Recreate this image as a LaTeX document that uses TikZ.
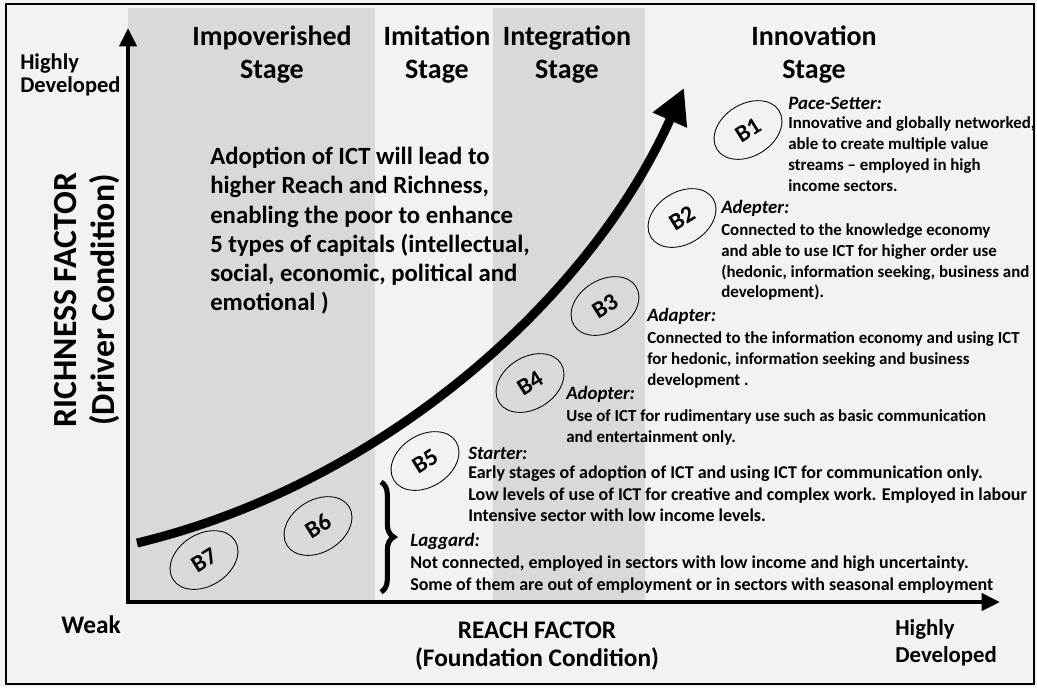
\documentclass[tikz,border=0pt]{standalone}
\usepackage{fontspec}
\setmainfont{Carlito}
\usetikzlibrary{arrows.meta, positioning, calc, shapes.geometric, decorations.pathreplacing}
\definecolor{colour_bg}{HTML}{F2F2F2}
\definecolor{colour_band}{HTML}{D9D9D9}

\begin{document}
\begin{tikzpicture}
   [
      x=0.025cm, y=-0.025cm,
      band/.style={fill=colour_band, draw=none},
      axis/.style={line width=2.8pt, -{Triangle[length=13pt, width=12pt]}},
      stage/.style={align=center, inner sep=0pt, font=\bfseries\fontsize{19.9}{23.5}\selectfont},
      corner label/.style={align=left, inner sep=0pt, font=\bfseries\fontsize{16}{16.5}\selectfont},
      axis label/.style={align=center, inner sep=0pt, font=\bfseries\fontsize{18}{19.4}\selectfont},
      group/.style={ellipse, draw, line width=0.6pt, minimum width=52pt, minimum height=37pt, inner sep=0pt, rotate=32, font=\bfseries\fontsize{17}{18}\selectfont},
      head/.style={anchor=west, inner sep=0pt, font=\bfseries\itshape\fontsize{13.4}{15}\selectfont},
      body/.style={align=left, inner sep=0pt, font=\bfseries\fontsize{12}{14.8}\selectfont},
      wide body/.style={body, font=\bfseries\fontsize{12.8}{15.2}\selectfont},
   ]

   \useasboundingbox (0,0) rectangle (1037,687);

   % =======================================================
   % Background, stage bands and frame
   % =======================================================

   \fill[colour_bg] (0,0) rectangle (1037,687);
   \fill[band] (128,8) rectangle (375,601);
   \fill[band] (493,8) rectangle (645,601);
   \draw[line width=1.5pt] (6,4) rectangle (1034,684);

   % =======================================================
   % Axes
   % =======================================================

   \coordinate (origin) at (128,602);
   \coordinate (ytop) at (128,28);
   \coordinate (xend) at (1000,602);

   \draw[axis] (origin) -- (ytop);
   \draw[axis] ([xshift=-1.4pt]origin) -- (xend);

   % Axis labels
   \node[corner label, anchor=west] (yhigh) at (20,75) {Highly\\Developed};
   \node[axis label, rotate=90, font=\bfseries\fontsize{24}{26.5}\selectfont] (richness) at (87,300) {RICHNESS FACTOR\\(Driver Condition)};
   \node[axis label, anchor=west] (weak) at (61,625) {Weak};
   \node[axis label] (reach) at (537,646) {REACH FACTOR\\(Foundation Condition)};
   \node[corner label, anchor=west, font=\bfseries\fontsize{16.2}{19.2}\selectfont] (xhigh) at (895,643) {Highly\\Developed};

   % =======================================================
   % Stages
   % =======================================================

   \node[stage] (impov) at (272,55) {Impoverished\\Stage};
   \node[stage] (imit) at (437,55) {Imitation\\Stage};
   \node[stage] (integ) at (567,55) {Integration\\Stage};
   \node[stage] (innov) at (814,55) {Innovation\\Stage};

   % Message
   \node[body, anchor=west, font=\bfseries\fontsize{17.6}{20.8}\selectfont] (message) at (210,231) {Adoption of ICT will lead to\\higher Reach and Richness,\\enabling the poor to enhance\\5 types of capitals (intellectual,\\social, economic, political and\\emotional )};

   % =======================================================
   % Growth curve
   % =======================================================

   \coordinate (cstart) at (137,543);
   \coordinate (cend) at (684,88);
   \draw[line width=6.4pt, -{Triangle[length=25pt, width=25pt]}] (cstart) .. controls (380,485) and (590,300) .. (cend);

   % =======================================================
   % Groups B1 - B7
   % =======================================================

   \node[group] (B1) at (748,130) {B1};
   \node[group] (B2) at (682,218) {B2};
   \node[group] (B3) at (605,306) {B3};
   \node[group] (B4) at (530,383) {B4};
   \node[group] (B5) at (425,461) {B5};
   \node[group] (B6) at (318,526) {B6};
   \node[group] (B7) at (204,560) {B7};

   % Descriptions
   \node[head] (hB1) at (788,103) {Pace-Setter:};
   \node[body, below right=5pt and 0pt of hB1.south west] (tB1) {Innovative and globally networked,\\able to create multiple value\\streams -- employed in high\\income sectors.};

   \node[head] (hB2) at (721,208) {Adepter:};
   \node[body, below right=5pt and 0pt of hB2.south west] (tB2) {Connected to the knowledge economy\\and able to use ICT for higher order use\\(hedonic, information seeking, business and\\development).};

   \node[head] (hB3) at (647,316) {Adapter:};
   \node[body, below right=5pt and 0pt of hB3.south west] (tB3) {Connected to the information economy and using ICT\\for hedonic, information seeking and business\\development .};

   \node[head] (hB4) at (566,394) {Adopter:};
   \node[body, below right=5pt and 0pt of hB4.south west] (tB4) {Use of ICT for rudimentary use such as basic communication\\and entertainment only.};

   \node[head] (hB5) at (468,453) {Starter:};
   \node[wide body, below right=4.5pt and 0pt of hB5.south west] (tB5) {Early stages of adoption of ICT and using ICT for communication only.\\Low levels of use of ICT for creative and complex work. Employed in labour\\Intensive sector with low income levels.};

   \node[head] (hB67) at (410,541) {Laggard:};
   \node[wide body, below right=4.5pt and 0pt of hB67.south west] (tB67) {Not connected, employed in sectors with low income and high uncertainty.\\Some of them are out of employment or in sectors with seasonal employment};

   % Brace for B6 and B7
   \coordinate (btop) at (381,482);
   \coordinate (bbot) at (381,592);
   \draw[line width=3.6pt, decorate, decoration={brace, amplitude=9pt}] (btop) -- (bbot);

\end{tikzpicture}
\end{document}
